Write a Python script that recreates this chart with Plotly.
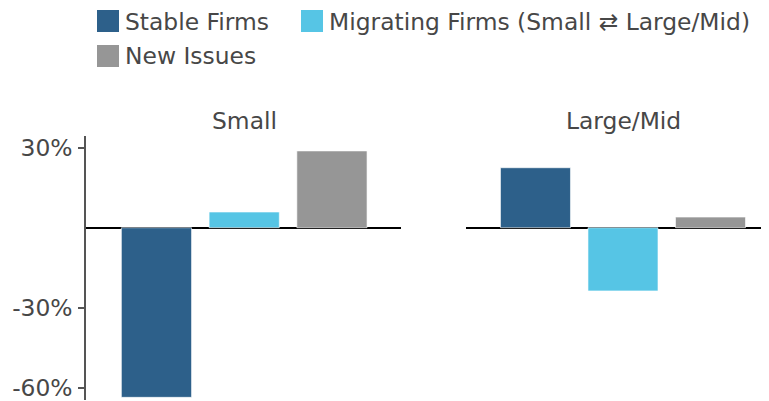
import plotly.graph_objects as go
from plotly.subplots import make_subplots

series = ["Stable Firms", "Migrating Firms (Small ⇄ Large/Mid)", "New Issues"]
colors = ["#2D608A", "#56C5E5", "#969696"]
panels = ["Small", "Large/Mid"]
small_values = [-63.6, 5.9, 28.8]
large_values = [22.5, -23.7, 4.0]
tick_vals = [-60, -30, 30]
tick_text = ["-60%", "-30%", "30%"]

OFF = 8  # page body margin offset
W, H = 769, 401
ML, MR, MT, MB = 86 - OFF, 0, 136 - OFF, H - (400 - OFF)
PW, PH = W - ML - MR, H - MT - MB
FONT = "DejaVu Sans"
TXT = "#474747"
FS = 23.4


def px_x(px):
    return (px - OFF - ML) / PW


def px_y(py):
    return 1 + (MT - (py - OFF)) / PH


fig = make_subplots(rows=1, cols=2, shared_yaxes=True, horizontal_spacing=0.02)

cats = ["s", "m", "n"]
for col, vals in [(1, small_values), (2, large_values)]:
    for i in range(3):
        fig.add_trace(
            go.Bar(
                x=[cats[i]], y=[vals[i]], width=0.8,
                marker=dict(color=colors[i], line=dict(color="rgba(255,255,255,0.6)", width=1)),
                name=series[i], showlegend=False,
            ),
            row=1, col=col,
        )

fig.update_layout(
    width=W, height=H,
    margin=dict(l=ML, r=MR, t=MT, b=MB),
    plot_bgcolor="white", paper_bgcolor="white",
    font=dict(family=FONT, size=FS, color=TXT),
    barmode="overlay",
    xaxis=dict(domain=[0, px_x(401)], range=[-0.803, 2.787], showticklabels=False,
               showgrid=False, zeroline=False, showline=False, ticks="",
               categoryorder="array", categoryarray=cats),
    xaxis2=dict(domain=[px_x(466), 1], range=[-0.794, (W - 615) / 87.5 + 1],
                showticklabels=False,
                showgrid=False, zeroline=False, showline=False, ticks="",
                categoryorder="array", categoryarray=cats),
    yaxis=dict(range=[-64.6, 34.4], tickvals=tick_vals, ticktext=tick_text,
               showgrid=False, zeroline=True, zerolinecolor="black", zerolinewidth=2,
               showline=True, linecolor="#555555", linewidth=1.5,
               ticks="outside", ticklen=6, tickcolor="#555555", tickwidth=1.5,
               ticklabelstandoff=1, tickfont=dict(size=FS, color=TXT)),
    yaxis2=dict(range=[-64.6, 34.4], showticklabels=False, showgrid=False,
                zeroline=True, zerolinecolor="black", zerolinewidth=2,
                showline=False, ticks=""),
)

# subplot titles
for name, cx in zip(panels, [244, 623]):
    fig.add_annotation(text=name, xref="paper", yref="paper", x=px_x(cx), y=px_y(121),
                       xanchor="center", yanchor="middle", showarrow=False,
                       font=dict(size=FS, color=TXT, family=FONT))

# legend (manual)
legend_items = [(97, 21, 0), (301, 21, 1), (97, 56, 2)]
for sx, cy, i in legend_items:
    fig.add_shape(type="rect", xref="paper", yref="paper",
                  x0=px_x(sx), x1=px_x(sx + 22), y0=px_y(cy - 11), y1=px_y(cy + 11),
                  fillcolor=colors[i], line=dict(width=0))
    fig.add_annotation(text=series[i], xref="paper", yref="paper",
                       x=px_x(sx + 26), y=px_y(cy + 0.5), xanchor="left", yanchor="middle",
                       showarrow=False, font=dict(size=FS, color=TXT, family=FONT))

fig.write_html("out.html")
